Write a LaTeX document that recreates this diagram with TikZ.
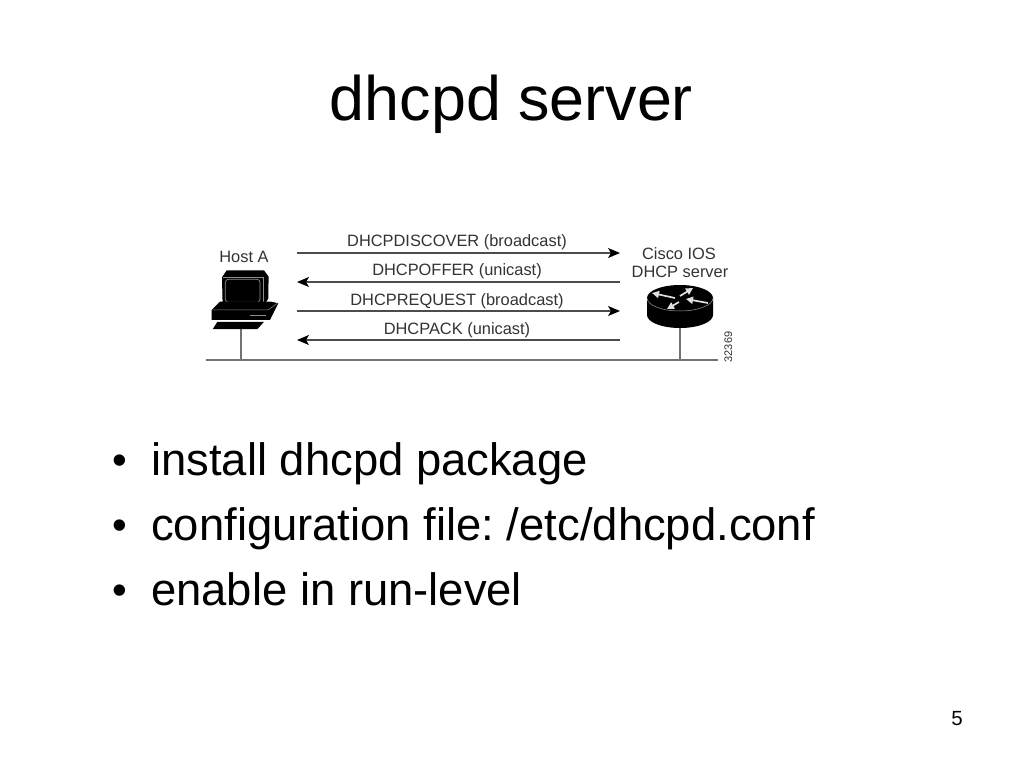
\documentclass[tikz,border=0pt]{standalone}
\usepackage{fontspec}
\setmainfont{Liberation Sans}
\usetikzlibrary{arrows.meta}
\frenchspacing
\tikzset{
  msg/.style={draw=black!70,line width=1.2pt,-{Stealth[length=12pt,width=10pt,inset=3pt,black]}},
  wire/.style={draw=black!55,line width=1.3pt},
  lbl/.style={inner sep=0pt,text=black!80,font=\fontsize{16.4}{18}\selectfont},
  bullettext/.style={anchor=base west,inner sep=0pt,font=\fontsize{45.4}{50}\selectfont},
  bulletdot/.style={anchor=base,inner sep=0pt,font=\fontsize{42}{50}\selectfont},
  routerarrow/.style={draw=white!88!black,line width=1.7pt,-{Triangle[length=7pt,width=7pt,white!88!black]}},
}
\begin{document}
\begin{tikzpicture}[x=1pt,y=-1pt]
\useasboundingbox (0,0) rectangle (1024,768);
\fill[white] (0,0) rectangle (1024,768);
\node[anchor=base,inner sep=0pt,font=\fontsize{62.8}{70}\selectfont] (title) at (511.5,120) {dhcpd server};

% message coordinates
\coordinate (a1) at (297,253); \coordinate (b1) at (620,253);
\coordinate (a2) at (297,282); \coordinate (b2) at (620,282);
\coordinate (a3) at (297,311); \coordinate (b3) at (620,311);
\coordinate (a4) at (297,340); \coordinate (b4) at (620,340);
\draw[msg] (a1) -- (b1);
\draw[msg] (b2) -- (a2);
\draw[msg] (a3) -- (b3);
\draw[msg] (b4) -- (a4);
\node[lbl,anchor=base] (m1) at (457,246) {DHCPDISCOVER (broadcast)};
\node[lbl,anchor=base] (m2) at (457,275) {DHCPOFFER (unicast)};
\node[lbl,anchor=base] (m3) at (457,305) {DHCPREQUEST (broadcast)};
\node[lbl,anchor=base] (m4) at (457,334) {DHCPACK (unicast)};
\node[lbl,anchor=base] (hosta) at (244,262) {Host A};
\node[lbl,anchor=base] (cisco1) at (679,259) {Cisco IOS};
\node[lbl,anchor=base] (cisco2) at (680,277) {DHCP server};
\node[lbl,anchor=base,rotate=90,font=\fontsize{11}{12}\selectfont] (num) at (732,347) {32369};

% bus and drops
\coordinate (busl) at (206,360); \coordinate (busr) at (718,360);
\coordinate (hostb) at (241,360); \coordinate (hostt) at (241,328);
\coordinate (routb) at (680,360); \coordinate (routt) at (680,326);
\draw[wire] (busl) -- (busr);
\draw[wire] (hostt) -- (hostb);
\draw[wire] (routt) -- (routb);

% computer
\begin{scope}[shift={(200,220)},x=0.333pt,y=-0.333pt]
  \fill[black] (66,172) -- (80,151) -- (192,151) -- (206,170) -- (205,236) -- (192,256) -- (68,256) -- cycle;
  \draw[white!55!black,line width=0.5pt] (68,172) -- (190,172) -- (190,256);
  \draw[white!55!black,line width=0.7pt,rounded corners=3pt] (76,178) rectangle (180,247);
  \fill[black] (35,270) -- (60,245) -- (212,245) -- (235,250) -- (210,300) -- (35,300) -- cycle;
  \draw[white!55!black,line width=0.5pt] (36,270) -- (205,270) -- (232,250);
  \draw[white!55!black,line width=0.8pt] (150,286) -- (198,286);
  \fill[black] (52,306) -- (192,306) -- (172,328) -- (38,328) -- cycle;
\end{scope}

% router
\fill[black] (647,298) -- (647,315) arc[start angle=180,end angle=0,x radius=33,y radius=13] -- (713,298) arc[start angle=0,end angle=-180,x radius=33,y radius=13] -- cycle;
\draw[white!60!black,line width=0.5pt] (647,298) arc[start angle=180,end angle=0,x radius=33,y radius=13];
\draw[routerarrow] (675,298) -- (652,293);
\draw[routerarrow] (680,296) -- (693,288);
\draw[routerarrow] (708,303) -- (686,299);
\draw[routerarrow] (679,302) -- (667,309);

% bullets
\node[bulletdot] (d1) at (120,474.5) {•};
\node[bullettext] (t1) at (151,475) {install dhcpd package};
\node[bulletdot] (d2) at (120,539.5) {•};
\node[bullettext] (t2) at (151,540) {configuration file: /etc/dhcpd.conf};
\node[bulletdot] (d3) at (120,604.5) {•};
\node[bullettext] (t3) at (151,605) {enable in run-level};
\node[anchor=base,inner sep=0pt,font=\fontsize{20.5}{24}\selectfont] (page) at (957,725) {5};
\end{tikzpicture}
\end{document}
